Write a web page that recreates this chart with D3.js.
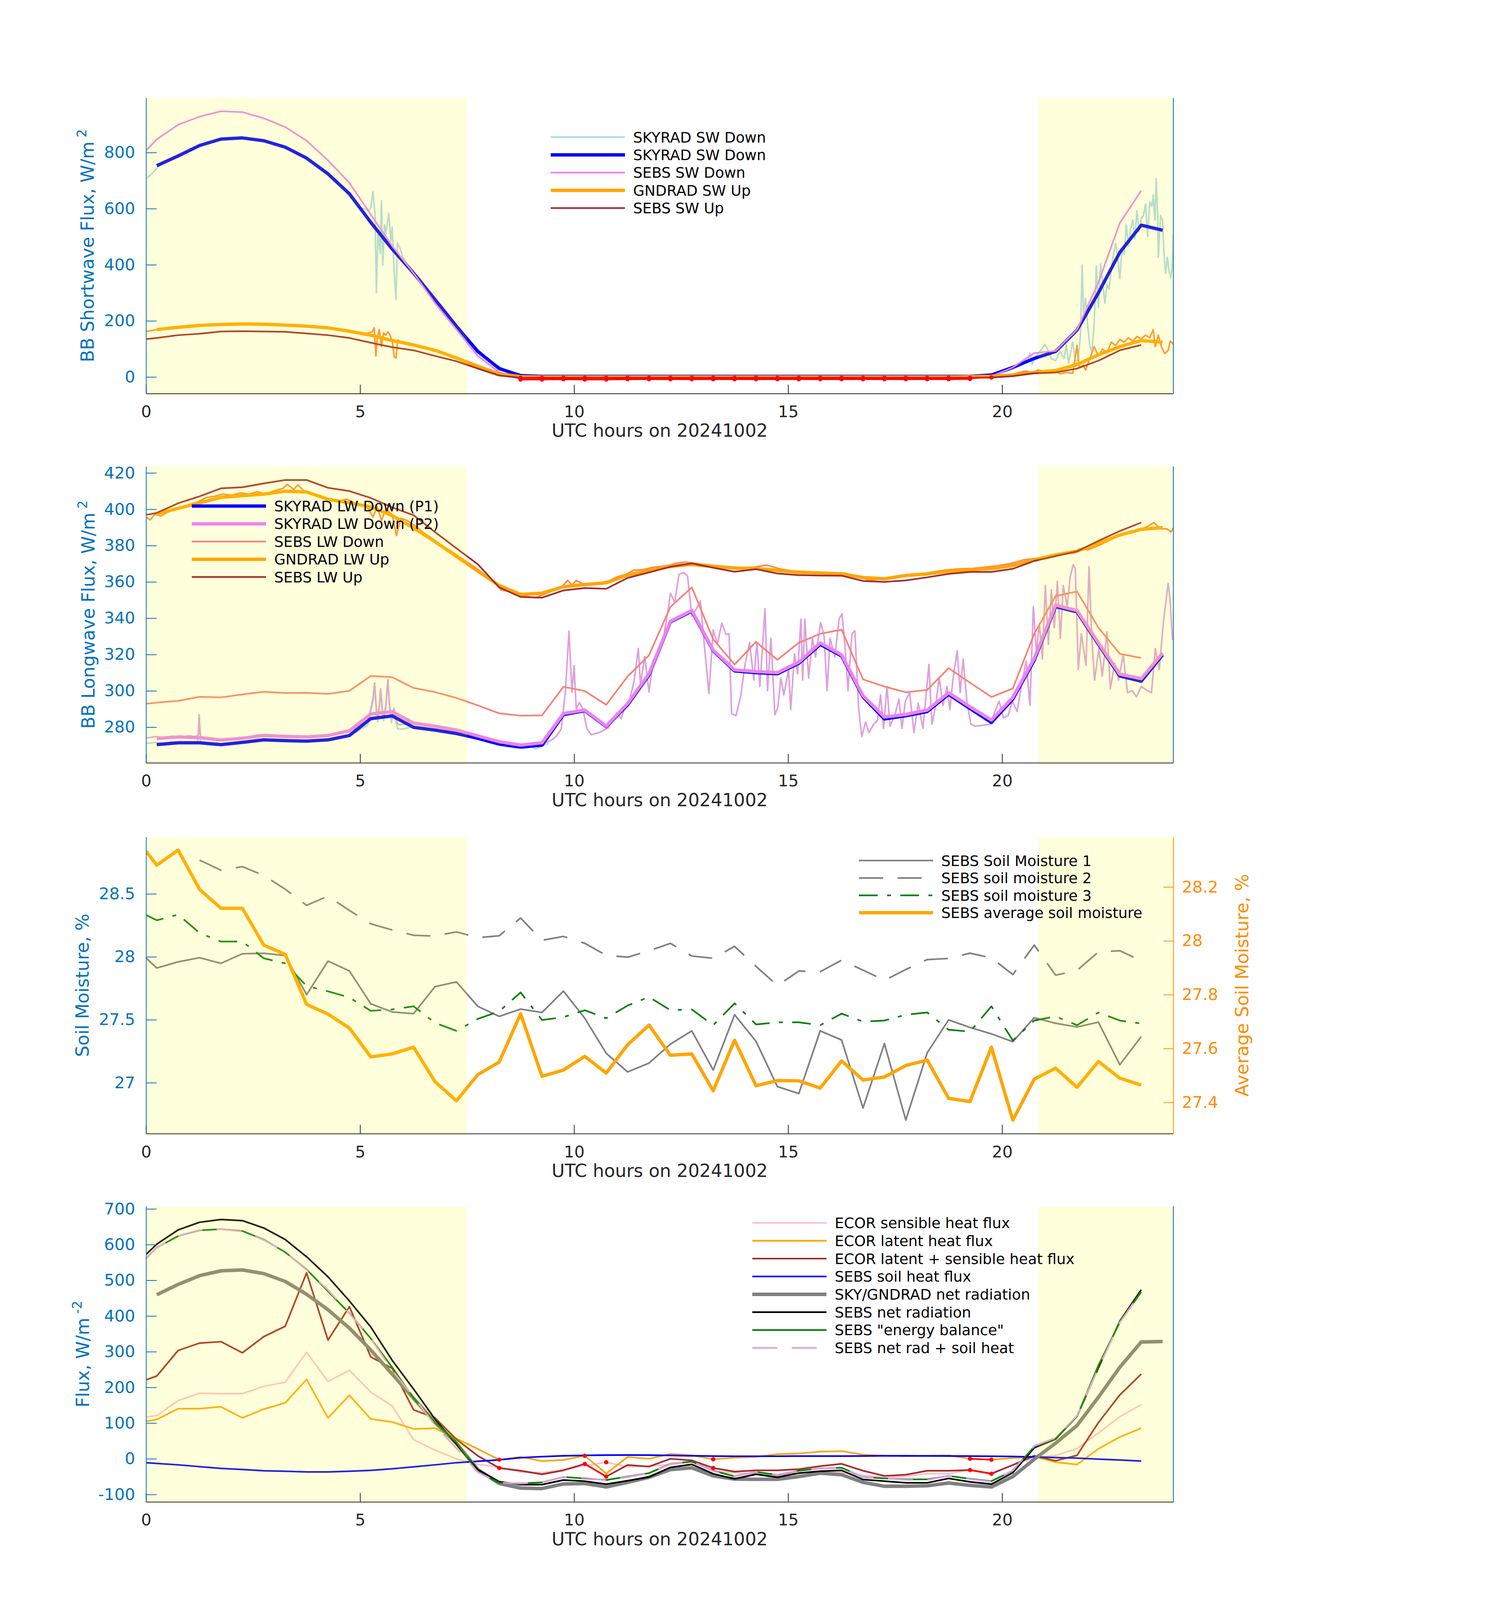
<!DOCTYPE html>
<html>
<head>
<meta charset="utf-8">
<title>SGP radiation, soil moisture and flux, 20241002</title>
<script src="https://d3js.org/d3.v7.min.js"></script>
<style>
  html, body { margin: 0; padding: 0; background: #fff; overflow: hidden; }
  svg { display: block; }
</style>
</head>
<body>
<div id="chart"></div>
<script>
// ---------------- data (UTC hours on 20241002) ----------------

// half-hour averaging grids
const tSebs = [0, 0.25, 0.75, 1.25, 1.75, 2.25, 2.75, 3.25, 3.75, 4.25, 4.75, 5.25, 5.75, 6.25, 6.75, 7.25,
  7.75, 8.25, 8.75, 9.25, 9.75, 10.25, 10.75, 11.25, 11.75, 12.25, 12.75, 13.25, 13.75, 14.25, 14.75, 15.25,
  15.75, 16.25, 16.75, 17.25, 17.75, 18.25, 18.75, 19.25, 19.75, 20.25, 20.75, 21.25, 21.75, 22.25, 22.75, 23.25];
const tRad = [0.25, 0.75, 1.25, 1.75, 2.25, 2.75, 3.25, 3.75, 4.25, 4.75, 5.25, 5.75, 6.25, 6.75, 7.25, 7.75,
  8.25, 8.75, 9.25, 9.75, 10.25, 10.75, 11.25, 11.75, 12.25, 12.75, 13.25, 13.75, 14.25, 14.75, 15.25, 15.75,
  16.25, 16.75, 17.25, 17.75, 18.25, 18.75, 19.25, 19.75, 20.25, 20.75, 21.25, 21.75, 22.25, 22.75, 23.25, 23.75];

const xTicks = [0, 5, 10, 15, 20];
const shadeSpans = [[0, 7.5], [20.85, 24]];

// panel 1: shortwave
const swSkyAvg = [753, 788, 825, 848, 852, 842, 819, 780, 724, 653, 551, 456, 370, 276, 181, 91, 30, 5,
  2, 2, 2, 2, 2, 2, 2, 2, 2, 2, 2, 2, 2, 2, 2, 2, 2, 2, 2, 2, 2, 7, 34, 66, 91, 167, 300, 444, 541, 523];
const swSebsDown = [807, 847, 899, 928, 947, 944, 922, 891, 842, 772, 692, 579, 467, 370, 263, 169, 75, 17,
  -9, -9, -8, -9, -9, -8, -8, -8, -8, -8, -8, -8, -8, -8, -8, -8, -8, -8, -8, -8, -8, -7, 2,
  34, 85, 93, 169, 337, 549, 664];
const swGndUp = [169, 177, 184, 187, 189, 188, 185, 181, 175, 163, 149, 130, 114, 95, 68, 38, 11, 1,
  0, 0, 0, 0, 0, 0, 0, 0, 0, 0, 0, 0, 0, 0, 0, 0, 0, 0, 0, 0, 1, 2.5, 7, 16, 23, 44, 79, 108, 130, 124];
const swSebsUp = [135, 139, 149, 154, 162, 163, 162, 161, 155, 149, 139, 122, 106, 95, 75, 56, 30, 5,
  -3, -3, -3, -3, -3, -3, -3, -3, -3, -3, -3, -3, -3, -3, -3, -3, -3, -3, -3, -3, -3, -3, -2,
  3, 13, 16, 30, 58, 95, 114];
const swSkyFine = [[0,708],[0.1,719],[0.2,735],[0.3,752],[0.5,770],[1,808],[1.5,838],[2,851],[2.5,850],[3,831],
  [3.5,800],[4,752],[4.5,689],[5,602],[5.1,600],[5.2,591],[5.25,604],[5.3,661],[5.35,579],[5.38,300],[5.42,526],
  [5.47,440],[5.5,628],[5.53,399],[5.57,542],[5.6,509],[5.67,583],[5.72,485],[5.75,534],[5.8,362],[5.84,276],
  [5.87,477],[5.93,460],[6,427],[6.1,403],[6.2,386],[6.3,362],[6.4,350],[6.5,328],[7,230],[7.5,138],[8,60],
  [8.5,14],[9,3],[10,1],[12,1],[14,1],[16,1],[18,1],[19,2],[19.8,6],[20.2,25],[20.5,50],[20.6,58],[20.65,85],
  [20.7,46],[20.8,75],[20.9,95],[21,116],[21.05,103],[21.15,66],[21.25,58],[21.35,91],[21.45,66],[21.5,116],
  [21.55,50],[21.65,124],[21.72,50],[21.78,66],[21.83,149],[21.87,399],[21.9,231],[21.95,280],[22,181],
  [22.05,108],[22.1,91],[22.15,190],[22.2,395],[22.25,247],[22.3,403],[22.35,337],[22.4,263],[22.45,329],
  [22.5,313],[22.55,386],[22.6,436],[22.65,477],[22.7,427],[22.75,350],[22.8,452],[22.85,436],[22.9,542],
  [22.95,468],[23,526],[23.05,559],[23.1,493],[23.15,592],[23.2,518],[23.25,567],[23.3,575],[23.35,616],
  [23.4,501],[23.45,624],[23.5,608],[23.53,649],[23.57,559],[23.6,706],[23.63,592],[23.65,427],[23.7,575],
  [23.75,559],[23.78,444],[23.82,370],[23.86,427],[23.9,378],[23.94,354],[23.97,386],[24,509]];
const swGndFine = [[0,162],[0.1,165],[0.26,169],[0.5,173],[1,180],[1.5,185],[2,188],[2.5,189],[3,187],[3.5,183],
  [4,178],[4.5,169],[5,156],[5.1,153],[5.2,157],[5.28,161],[5.33,175],[5.37,75],[5.4,136],[5.45,169],[5.5,108],
  [5.55,157],[5.6,149],[5.65,161],[5.7,149],[5.75,128],[5.8,71],[5.84,68],[5.88,132],[5.95,124],[6.05,120],
  [6.2,116],[6.4,108],[6.6,99],[7,82],[7.5,55],[8,25],[8.5,5],[9,1],[10,0],[12,0],[14,0],[16,0],[18,0],[19,1],
  [19.8,2],[20.2,7],[20.4,16],[20.55,21],[20.7,16],[20.85,25],[21,19],[21.2,25],[21.35,11],[21.5,16],[21.65,13],
  [21.75,112],[21.8,34],[21.9,42],[21.95,25],[22.05,66],[22.15,108],[22.25,75],[22.35,99],[22.45,87],[22.55,124],
  [22.65,112],[22.75,134],[22.85,124],[22.95,140],[23.05,128],[23.15,144],[23.25,136],[23.35,149],[23.45,140],
  [23.53,169],[23.58,108],[23.65,149],[23.72,108],[23.8,83],[23.88,95],[23.93,128],[24,116]];

// panel 2: longwave
const lwSkyP1 = [270.4, 271.4, 271.4, 270.4, 271.6, 273.0, 272.6, 272.3, 273.0, 275.4, 284.7, 286.2, 279.9, 278.4,
  276.5, 273.9, 270.7, 269.1, 270.1, 286.9, 289.1, 280.3, 292.3, 308.8, 338.0, 343.9, 322.1, 311.0, 310.0, 309.4,
  315.2, 325.6, 319.2, 296.7, 284.5, 286.3, 288.6, 298.1, 290.3, 282.6, 295.5, 316.9, 346.4, 343.5, 325.6, 308.2,
  305.3, 319.8];
const lwSkyP2 = [273.7, 274.6, 274.2, 272.9, 273.9, 275.4, 274.9, 274.6, 275.4, 278.0, 287.2, 288.5, 282.2, 280.5,
  278.4, 275.2, 272.0, 270.1, 271.4, 287.5, 289.4, 280.6, 293.0, 309.4, 338.3, 344.3, 322.4, 311.5, 310.6, 310.0,
  315.8, 326.4, 319.8, 297.3, 285.6, 287.0, 289.4, 298.9, 291.2, 283.9, 296.4, 317.8, 347.2, 344.2, 326.4, 309.2,
  306.7, 320.8];
const lwSebsDown = [292.9, 293.5, 294.5, 296.7, 296.4, 298.0, 299.5, 298.8, 298.9, 298.3, 300.0, 308.2, 307.5, 301.6,
  299.3, 296.1, 292.0, 287.6, 286.3, 286.5, 302.2, 299.9, 292.3, 307.9, 319.6, 346.2, 357.0, 328.4, 314.5, 327.0,
  317.1, 326.5, 331.4, 333.7, 306.3, 302.4, 299.2, 300.5, 312.5, 304.5, 296.6, 301.3, 331.4, 352.2, 354.7, 334.8,
  320.4, 318.1];
const lwGndUp = [397.5, 400.5, 403.5, 406.5, 407.5, 408.3, 409.9, 409.5, 405.5, 403.5, 401.3, 396.5, 389.7, 382.2,
  374.0, 366.0, 358.0, 353.1, 353.8, 357.3, 358.5, 359.5, 363.8, 366.3, 368.5, 369.6, 368.5, 367.6, 367.4, 366.3,
  365.2, 364.9, 364.4, 362.4, 361.7, 363.5, 364.4, 365.9, 366.7, 367.3, 369.0, 372.2, 374.9, 376.9, 381.2, 385.8,
  388.9, 389.9];
const lwSebsUp = [396.9, 398.0, 403.3, 407.1, 411.5, 412.1, 414.2, 416.1, 416.1, 411.8, 410.0, 406.2, 401.0, 396.7,
  387.4, 378.5, 369.7, 357.0, 351.7, 351.3, 355.3, 356.6, 356.2, 362.2, 365.2, 368.3, 370.2, 367.8, 365.6, 367.0,
  364.6, 363.7, 363.5, 363.4, 360.5, 360.0, 360.8, 362.5, 364.4, 365.5, 365.5, 367.2, 371.5, 374.2, 376.8, 382.6,
  388.0, 392.7];
const lwP1Fine = [[0,271.0],[0.2,271.5],[0.4,271.2],[0.6,271.8],[0.8,271.5],[1.0,271.8],[1.2,271.5],[1.24,285.5],
  [1.27,271.5],[1.4,270.5],[1.6,270.0],[1.8,270.2],[2.0,271.0],[2.2,271.5],[2.4,272.0],[2.6,272.8],[2.8,273.2],
  [3.0,272.8],[3.2,272.4],[3.4,272.0],[3.6,271.8],[3.8,272.2],[4.0,272.6],[4.2,273.0],[4.4,273.6],[4.6,274.5],
  [4.8,276.0],[5.0,278.5],[5.1,280.0],[5.18,281.0],[5.25,288],[5.3,294],[5.34,302.5],[5.38,288],[5.41,283.0],
  [5.45,290],[5.48,299.5],[5.52,288],[5.55,283.5],[5.6,290],[5.65,304.5],[5.69,290],[5.73,282.5],[5.79,288.0],
  [5.84,282.5],[5.88,279.0],[6.0,279.0],[6.2,280.0],[6.4,279.0],[6.6,278.6],[6.8,278.0],[7.0,277.2],[7.2,276.4],
  [7.4,275.4],[7.6,274.2],[7.8,273.0],[8.0,271.6],[8.2,270.4],[8.4,269.4],[8.6,268.6],[8.8,268.2],[9.0,269.0],
  [9.1,268.0],[9.25,269.6],[9.4,271.0]];
const lwP2Fine = [[0,274.0],[0.2,274.8],[0.4,274.3],[0.6,275.0],[0.8,274.6],[1.0,275.2],[1.15,274.8],[1.22,275.5],
  [1.24,286.9],[1.27,275.0],[1.4,274.0],[1.6,273.4],[1.8,273.0],[2.0,273.6],[2.2,274.0],[2.4,274.7],[2.6,275.6],
  [2.8,276.0],[3.0,275.4],[3.2,275.0],[3.4,274.6],[3.6,274.3],[3.8,274.8],[4.0,275.2],[4.2,275.6],[4.4,276.3],
  [4.6,277.2],[4.8,278.4],[5.0,281.0],[5.1,282.5],[5.18,283.5],[5.25,290],[5.3,296],[5.34,304.4],[5.38,290],
  [5.41,285.3],[5.45,292],[5.48,301.2],[5.52,290],[5.55,285.7],[5.6,292],[5.65,306.3],[5.69,292],[5.73,285.0],
  [5.79,290.4],[5.84,285],[5.88,281.5],[6.0,281.5],[6.2,282.5],[6.4,281.5],[6.6,281.0],[6.8,280.3],[7.0,279.5],
  [7.2,278.6],[7.4,277.6],[7.6,276.2],[7.8,275.0],[8.0,273.6],[8.2,272.3],[8.4,271.2],[8.6,270.3],[8.8,269.8],
  [9.0,270.5],[9.1,269.5],[9.25,271.0],[9.4,272.0],[9.5,273.3],[9.6,275.5],[9.7,279.0],[9.8,300.5],[9.88,332.9],
  [9.95,299.3],[10.0,313.9],[10.05,289.8],[10.12,293.6],[10.2,290.5],[10.3,279.0],[10.4,275.8],[10.6,277.1],
  [10.8,279.6],[11.0,287.9],[11.1,284.7],[11.2,292],[11.3,295.5],[11.4,305],[11.5,323.4],[11.55,303.7],
  [11.65,318.9],[11.75,299.3],[11.85,317.0],[12.0,322.1],[12.1,331.0],[12.2,345],[12.25,353.8],[12.35,348.7],
  [12.45,364.0],[12.55,365.2],[12.65,363.3],[12.75,341.1],[12.85,344.9],[12.95,349.4],[13.05,323.4],[13.15,298.6],
  [13.25,333.5],[13.35,325.9],[13.45,337.3],[13.55,331.0],[13.62,331.4],[13.68,287.4],[13.78,286.3],[13.89,296.7],
  [13.99,314.0],[14.1,326.7],[14.2,305.9],[14.27,326.7],[14.34,302.4],[14.46,345.2],[14.52,300.1],[14.6,329.0],
  [14.69,286.8],[14.76,290.9],[14.83,307.1],[14.9,297.8],[15.01,311.7],[15.06,289.7],[15.15,320.4],[15.22,309.4],
  [15.3,339.5],[15.34,305.9],[15.39,339.5],[15.48,307.1],[15.57,329.0],[15.64,318.6],[15.76,337.7],[15.84,330.2],
  [15.91,300.1],[15.98,329.0],[16.09,318.6],[16.19,339.5],[16.26,342.4],[16.33,324.4],[16.4,300.1],[16.49,331.4],
  [16.56,333.1],[16.65,289.7],[16.72,274.7],[16.81,282.8],[16.89,277.0],[17.0,281.6],[17.09,283.9],[17.16,297.8],
  [17.23,279.3],[17.31,302.4],[17.38,280.5],[17.49,286.3],[17.59,295.5],[17.66,279.3],[17.74,294.3],[17.84,299.0],
  [17.94,277.0],[18.04,293.2],[18.15,279.3],[18.29,314.6],[18.36,281.6],[18.44,290.9],[18.53,307.1],[18.62,292.0],
  [18.71,302.4],[18.78,289.7],[18.85,305.9],[18.95,322.1],[19.02,299.0],[19.09,317.5],[19.18,293.2],[19.27,281.6],
  [19.37,280.5],[19.55,281.1],[19.72,281.6],[19.83,288.6],[19.93,294.3],[20.03,285.1],[20.14,286.3],[20.24,294.3],
  [20.35,288.6],[20.45,302.4],[20.56,316.3],[20.65,292.0],[20.73,346.4],[20.8,321.0],[20.87,337.1],[20.94,317.5],
  [21.01,358.0],[21.08,325.6],[21.15,355.6],[21.22,334.8],[21.29,360.3],[21.36,329.0],[21.43,358.0],[21.52,346.4],
  [21.59,362.6],[21.66,369.5],[21.71,367.2],[21.78,311.7],[21.85,331.4],[21.96,314.0],[22.03,368.4],[22.1,326.7],
  [22.16,305.9],[22.26,323.3],[22.34,308.2],[22.45,332.5],[22.53,301.3],[22.63,315.2],[22.72,305.9],[22.83,319.8],
  [22.93,299.0],[23.04,300.1],[23.14,296.7],[23.25,302.4],[23.39,300.1],[23.49,299.0],[23.58,323.3],[23.67,311.7],
  [23.77,338.3],[23.88,359.1],[23.93,348.7],[23.98,327.9]];
const lwGndFine = [[0,395.7],[0.1,394.1],[0.2,397.2],[0.35,396.3],[0.5,398.4],[0.7,400.1],[0.9,401.4],[1,402.6],
  [1.2,403.9],[1.4,406.4],[1.6,407.1],[1.8,408.3],[2,407.7],[2.2,409.0],[2.4,408.3],[2.6,409.6],[2.8,408.3],
  [3,410.2],[3.2,411.5],[3.3,413.7],[3.45,410.9],[3.55,413.4],[3.7,409.6],[3.9,408.3],[4.1,407.1],[4.3,405.5],
  [4.5,404.5],[4.7,405.5],[4.9,403.0],[5.1,402.0],[5.2,400.1],[5.3,395.7],[5.4,401.4],[5.5,393.8],[5.6,400.1],
  [5.75,396.9],[5.85,385.5],[5.95,395.0],[6.1,393.8],[6.3,390.6],[6.5,386.8],[6.7,383.6],[6.9,379.8],[7.1,377.3],
  [7.3,374.1],[7.5,370.9],[7.7,367.8],[7.9,364.0],[8.1,360.8],[8.3,355.4],[8.5,354.8],[8.7,352.5],[8.9,351.9],
  [9.1,351.3],[9.3,353.2],[9.5,355.1],[9.7,357.0],[9.85,360.8],[9.95,358.2],[10.05,360.8],[10.2,358.9],[10.4,358.9],
  [10.6,359.5],[10.8,360.4],[11,362.7],[11.2,364.0],[11.4,366.5],[11.6,366.7],[11.8,367.8],[12,368.4],[12.2,369.0],
  [12.4,370.3],[12.6,370.9],[12.8,370.3],[13,369.7],[13.3,369.0],[13.6,368.4],[13.9,367.8],[14.2,368.1],
  [14.5,369.3],[14.8,367.2],[15.1,366.0],[15.4,365.7],[15.7,365.1],[16,364.9],[16.3,364.9],[16.6,363.2],
  [16.9,360.9],[17.2,361.7],[17.5,362.6],[17.8,363.2],[18.1,364.3],[18.4,365.5],[18.7,366.6],[19,367.2],
  [19.3,367.4],[19.6,368.1],[19.9,368.9],[20.2,370.1],[20.5,372.1],[20.8,373.0],[21.1,374.2],[21.4,375.3],
  [21.7,375.9],[21.8,378.2],[22,377.6],[22.3,380.5],[22.6,384.0],[22.9,386.9],[23.2,388.6],[23.4,390.6],
  [23.55,392.7],[23.7,389.2],[23.85,389.2],[23.95,387.5],[24,389.8]];

// panel 3: soil moisture (%)
const soilMoist1 = [27.991, 27.911, 27.960, 27.993, 27.948, 28.024, 28.028, 28.010, 27.699, 27.966, 27.888, 27.627,
  27.562, 27.549, 27.763, 27.801, 27.607, 27.527, 27.585, 27.558, 27.728, 27.512, 27.234, 27.086, 27.156, 27.307,
  27.412, 27.101, 27.540, 27.329, 26.969, 26.914, 27.412, 27.339, 26.799, 27.311, 26.704, 27.238, 27.499, 27.439,
  27.388, 27.326, 27.516, 27.472, 27.443, 27.481, 27.143, 27.366];
const soilMoist2 = [null, null, null, 28.768, 28.687, 28.716, 28.646, 28.537, 28.409, 28.482, 28.368, 28.262,
  28.213, 28.171, 28.165, 28.198, 28.152, 28.167, 28.308, 28.131, 28.162, 28.107, 28.012, 27.997, 28.048, 28.107,
  28.006, 27.988, 28.083, 27.924, 27.772, 27.887, 27.882, 27.973, 27.894, 27.813, 27.899, 27.978, 27.987, 28.029,
  27.991, 27.859, 28.093, 27.854, 27.892, 28.039, 28.048, 27.969];
const soilMoist3 = [28.332, 28.290, 28.335, 28.189, 28.121, 28.121, 27.988, 27.948, 27.768, 27.726, 27.677, 27.571,
  27.582, 27.607, 27.476, 27.412, 27.507, 27.567, 27.717, 27.498, 27.521, 27.576, 27.512, 27.613, 27.681, 27.576,
  27.582, 27.457, 27.631, 27.463, 27.480, 27.480, 27.457, 27.549, 27.485, 27.494, 27.540, 27.558, 27.421, 27.406,
  27.607, 27.335, 27.494, 27.527, 27.457, 27.558, 27.494, 27.470];
const soilMoistAvg = [28.333, 28.281, 28.337, 28.191, 28.121, 28.121, 27.984, 27.950, 27.764, 27.728, 27.676, 27.569,
  27.580, 27.605, 27.477, 27.406, 27.503, 27.550, 27.729, 27.497, 27.520, 27.571, 27.509, 27.614, 27.687, 27.575,
  27.580, 27.443, 27.631, 27.462, 27.481, 27.480, 27.453, 27.554, 27.483, 27.494, 27.537, 27.557, 27.415, 27.403,
  27.605, 27.334, 27.486, 27.527, 27.456, 27.552, 27.490, 27.464];

// panel 4: fluxes (W/m^2)
const ecorSensible = [116.5, 121, 163.1, 183.6, 182.3, 182.3, 202.9, 214.5, 298.3, 216.4, 248, 186.8, 148.1, 53.3,
  24.3, 0, -15.5, -23.9, -36.8, -38.9, -30.5, -19.5, -9.7, -22.6, -20.6, -16.1, -9.7, -33.7, -40, -42.1, -46.6,
  -40.2, -37, -38.2, -46.6, -51.1, -49.8, -41.4, -42.1, -30.5, -40.2, -17.6, 3, 9.4, 28.8, 72.7, 117.8, 152];
const ecorLatent = [104.9, 110, 140.4, 140.4, 145.5, 114.6, 139.1, 156.5, 222.2, 114.6, 177.8, 111.4, 103, 83.6,
  85.6, 56.6, 27.6, -2.6, 5.2, -6.4, -3.2, 8.4, -41.3, 5.2, 0, 13.5, 9.7, -1.3, 3.2, 5.2, 12.9, 14.8, 20, 21.3,
  11.6, 8.4, 7.1, 8.4, 9.7, 0, -2.6, 1.9, 6.4, -9.7, -16.1, 27.7, 61.1, 85.6];
const ecorSum = [221, 231.9, 303.5, 324.1, 328, 297, 342.2, 371.2, 520.8, 332.5, 426, 285.4, 253.2, 137.1, 114.6,
  54.6, 8.4, -25.8, -33.5, -43.4, -32.4, -14.2, -49.8, -17.4, -21.9, 0, -4.5, -25.8, -36, -32.4, -32.4, -29.1,
  -20.7, -14.2, -33.5, -47.9, -44.7, -33.5, -33.5, -31.6, -41.9, -17.4, 8.4, -5.8, 9.7, 101.5, 179, 237.1];
const sebsSoilHeat = [-11, -13, -17, -22, -27, -30, -33.5, -35, -36.8, -36.8, -35, -32.4, -28, -22.6, -17, -11,
  -7, -3, 3, 6, 8.4, 9.5, 10.3, 10.5, 10.3, 9.5, 8.4, 7.5, 7.1, 7.1, 7.1, 7.5, 7.5, 7.5, 7.8, 8.4, 8.4, 8, 7.8,
  7.5, 7.1, 6.5, 5.2, 3.5, 1.9, -1, -3.5, -6.4];
const radNet = [459.5, 488.5, 513, 526.6, 529.1, 518.8, 496.9, 460.8, 417.6, 366, 304.8, 237.1, 169.4, 101.7, 43.7,
  -30.3, -69.2, -82.1, -83.4, -70.5, -69.2, -78.9, -66, -51.8, -30.5, -25.3, -47.9, -57, -57.6, -57.6, -49.8,
  -40.2, -44.7, -66, -77, -77, -75.6, -67.9, -74.4, -78.9, -49.8, -1.3, 43.8, 93.3, 172.6, 256.4, 327.3, 328.6];
const sebsNet = [572.3, 601.4, 641.3, 662.6, 670.3, 667.1, 646.5, 614.2, 565.9, 509.8, 442.1, 369.2, 275.8, 195.2,
  111.3, 40.4, -30.5, -64, -72.4, -72.4, -59.5, -62.7, -71.1, -61.5, -51.1, -24.1, -15.7, -42.1, -56.3, -43.4,
  -51.8, -40.2, -35, -32.4, -58.2, -62.7, -67.3, -67.3, -55, -64.7, -71.1, -38.9, 30.8, 55.3, 119.1, 255, 385.4,
  473.7];
const sebsEnergyBal = [561.4, 591.7, 623.9, 640, 643.3, 638.1, 614.2, 578.8, 530.4, 469.2, 407.9, 337, 256.4, 169.4,
  101.7, 46.9, -36.8, -67.3, -69.2, -66, -51.1, -55, -59.5, -49.8, -40.2, -14.2, -7.7, -33.5, -49, -36.8, -45.3,
  -33.5, -27.1, -25.1, -51.1, -55, -57.6, -57.6, -47.9, -56.3, -62.7, -33.5, 34, 56.6, 119.1, 262, 382.1, 467.3];
const sebsNetPlusSoil = [561.3, 591.4, 624.3, 640.6, 643.3, 637.1, 613, 579.2, 529.1, 473, 407.1, 336.8, 247.8,
  172.6, 94.3, 29.4, -37.5, -67, -69.4, -66.4, -51.1, -53.2, -60.8, -51, -40.8, -14.6, -7.3, -34.6, -49.2, -36.3,
  -44.7, -32.7, -27.5, -24.9, -50.4, -54.3, -58.9, -59.3, -47.2, -57.2, -64, -32.4, 36, 58.8, 121, 254, 381.9,
  467.3];
// QC-flagged ECOR half hours (red)
const ecorLatentFlags = [8.25, 10.25, 13.25, 19.25, 19.75];
const ecorSensibleFlags = [10.75];
const ecorSumFlags = [8.25, 10.25, 10.75, 13.25, 19.25, 19.75];

// tick values
const swTicks = [0, 200, 400, 600, 800];
const lwTicks = [280, 300, 320, 340, 360, 380, 400, 420];
const smTicks = [27, 27.5, 28, 28.5];
const smAvgTicks = [27.4, 27.6, 27.8, 28, 28.2];
const fluxTicks = [-100, 0, 100, 200, 300, 400, 500, 600, 700];

// ---------------- drawing ----------------
const FONT = '"DejaVu Sans", "Liberation Sans", sans-serif';
const AXBLUE = '#0072BD', AXORANGE = '#FF8C00', AXDARK = '#262626';
const width = 3825, fullHeight = 4875;
// the photographed area can be shorter than the nominal window: squeeze the layout vertically to fit
const viewH = Math.min(fullHeight, window.innerHeight || fullHeight);
const k = viewH / fullHeight;
const V = v => v * k;
const X0 = 374, X1 = 3004;

const svg = d3.select('#chart').append('svg')
  .attr('width', width)
  .attr('height', viewH)
  .style('background', '#fff');
svg.append('rect').attr('width', width).attr('height', viewH).attr('fill', '#fff');

const zip = (t, v) => t.map((d, i) => [d, v[i]]);

function makePanel(top, bottom, yDomain) {
  top = V(top); bottom = V(bottom);
  const x = d3.scaleLinear().domain([0, 24]).range([X0, X1]);
  const y = d3.scaleLinear().domain(yDomain).range([bottom, top]);
  const g = svg.append('g');
  const clipId = 'clip' + Math.round(top);
  svg.append('clipPath').attr('id', clipId)
    .append('rect').attr('x', X0).attr('y', top).attr('width', X1 - X0).attr('height', bottom - top);
  const plot = g.append('g').attr('clip-path', `url(#${clipId})`);
  return { x, y, g, plot, top, bottom };
}

function addLine(p, pts, c, w, dash, yScale) {
  const ys = yScale || p.y;
  p.plot.append('path')
    .datum(pts)
    .attr('fill', 'none')
    .attr('stroke', c)
    .attr('stroke-width', w)
    .attr('stroke-linejoin', 'round')
    .attr('stroke-dasharray', dash || null)
    .attr('d', d3.line()
      .defined(d => d[1] !== null && d[1] !== undefined)
      .x(d => p.x(d[0]))
      .y(d => ys(d[1])));
}

// red overlay on flagged points
function addFlags(p, pts, isFlagged) {
  const line = d3.line().defined(isFlagged).x(d => p.x(d[0])).y(d => p.y(d[1]));
  p.plot.append('path').datum(pts)
    .attr('fill', 'none').attr('stroke', '#ff0000').attr('stroke-width', 4).attr('d', line);
  p.plot.selectAll(null).data(pts.filter(isFlagged)).join('circle')
    .attr('cx', d => p.x(d[0])).attr('cy', d => p.y(d[1])).attr('r', 5.5).attr('fill', '#ff0000');
}

function shade(p) {
  shadeSpans.forEach(([a, b]) => {
    p.g.append('rect')
      .attr('x', p.x(a)).attr('width', p.x(b) - p.x(a))
      .attr('y', p.top).attr('height', p.bottom - p.top + V(6))
      .attr('fill', '#ffff00').attr('fill-opacity', 0.137);
  });
}

function axes(p, yTicks, labelX, labelParts, rightLine) {
  const xa = p.g.append('g')
    .attr('transform', `translate(0,${p.bottom})`)
    .call(d3.axisBottom(p.x).tickValues(xTicks).tickFormat(d3.format('d'))
      .tickSizeInner(-V(27)).tickSizeOuter(0).tickPadding(V(37)));
  xa.attr('font-family', FONT).attr('font-size', 41.7).attr('color', AXDARK);
  xa.selectAll('path, line').attr('stroke-width', 2);

  const ya = p.g.append('g')
    .attr('transform', `translate(${X0},0)`)
    .call(d3.axisLeft(p.y).tickValues(yTicks).tickFormat(d => String(d))
      .tickSizeInner(-27).tickSizeOuter(0).tickPadding(28));
  ya.attr('font-family', FONT).attr('font-size', 41.7).attr('color', AXBLUE);
  ya.selectAll('path, line').attr('stroke-width', 2);

  if (rightLine) {
    p.g.append('line').attr('x1', X1).attr('x2', X1).attr('y1', p.top).attr('y2', p.bottom)
      .attr('stroke', AXBLUE).attr('stroke-width', 2);
  }

  p.g.append('text')
    .attr('x', (X0 + X1) / 2).attr('y', p.bottom + V(132))
    .attr('text-anchor', 'middle')
    .attr('font-family', FONT).attr('font-size', 45.8).attr('fill', AXDARK)
    .text('UTC hours on 20241002');

  yLabel(p, labelX, labelParts, AXBLUE);
}

function yLabel(p, xPos, parts, color) {
  const cy = (p.top + p.bottom) / 2;
  const t = p.g.append('text')
    .attr('transform', `translate(${xPos},${cy}) rotate(-90)`)
    .attr('text-anchor', 'middle')
    .attr('font-family', FONT).attr('font-size', 45.8).attr('fill', color);
  t.append('tspan').text(parts[0]);
  if (parts[1]) {
    t.append('tspan').attr('dx', 10).attr('dy', -19).attr('font-size', 34).text(parts[1]);
  }
}

function legend(p, x0, y0, step, entries) {
  entries.forEach((e, i) => {
    const yy = V(y0 + i * step);
    p.g.append('line')
      .attr('x1', x0).attr('x2', x0 + 190).attr('y1', yy).attr('y2', yy)
      .attr('stroke', e.c).attr('stroke-width', e.w)
      .attr('stroke-dasharray', e.dash || null);
    p.g.append('text')
      .attr('x', x0 + 211).attr('y', yy).attr('dy', '0.36em')
      .attr('font-family', FONT).attr('font-size', 37.5).attr('fill', '#000')
      .text(e.label);
  });
}

// ---- panel 1: shortwave ----
const p1 = makePanel(298, 1199, [-59, 995]);
addLine(p1, swSkyFine, '#ADD8E6', 4);
addLine(p1, zip(tRad, swSkyAvg), '#0000FF', 8.5);
addLine(p1, zip(tSebs, swSebsDown), '#EE82EE', 4.2);
addLine(p1, swGndFine, '#FF8A3D', 4);
addLine(p1, zip(tRad, swGndUp), '#FFA500', 8.5);
addLine(p1, zip(tSebs, swSebsUp), '#A52A2A', 4.2);
addFlags(p1, zip(tSebs, swSebsDown), d => d[1] < 0);
addFlags(p1, zip(tSebs, swSebsUp), d => d[1] < 0);
shade(p1);
axes(p1, swTicks, 240, ['BB Shortwave Flux, W/m', '2'], true);
legend(p1, 1410, 418, 54, [
  { label: 'SKYRAD SW Down', c: '#ADD8E6', w: 4.2 },
  { label: 'SKYRAD SW Down', c: '#0000FF', w: 8.5 },
  { label: 'SEBS SW Down', c: '#EE82EE', w: 4.2 },
  { label: 'GNDRAD SW Up', c: '#FFA500', w: 8.5 },
  { label: 'SEBS SW Up', c: '#A52A2A', w: 4.2 }
]);

// ---- panel 2: longwave ----
const p2 = makePanel(1421, 2324, [260.4, 423.6]);
addLine(p2, lwP1Fine, '#ADD8E6', 4);
addLine(p2, lwP2Fine, '#DDA0DD', 4);
addLine(p2, lwGndFine, '#FF8A3D', 4);
addLine(p2, zip(tRad, lwSkyP1), '#0000FF', 8.5);
addLine(p2, zip(tRad, lwSkyP2), '#EE82EE', 8.5);
addLine(p2, zip(tSebs, lwSebsDown), '#FA8072', 4.2);
addLine(p2, zip(tRad, lwGndUp), '#FFA500', 8.5);
addLine(p2, zip(tSebs, lwSebsUp), '#A52A2A', 4.2);
shade(p2);
axes(p2, lwTicks, 242, ['BB Longwave Flux, W/m', '2'], true);
legend(p2, 491, 1542, 54, [
  { label: 'SKYRAD LW Down (P1)', c: '#0000FF', w: 8.5 },
  { label: 'SKYRAD LW Down (P2)', c: '#EE82EE', w: 8.5 },
  { label: 'SEBS LW Down', c: '#FA8072', w: 4.2 },
  { label: 'GNDRAD LW Up', c: '#FFA500', w: 8.5 },
  { label: 'SEBS LW Up', c: '#A52A2A', w: 4.2 }
]);

// ---- panel 3: soil moisture ----
const p3 = makePanel(2550, 3454, [26.596, 28.952]);
const yAvg = d3.scaleLinear().domain([27.284, 28.386]).range([p3.bottom, p3.top]);
addLine(p3, zip(tSebs, soilMoist1), '#808080', 4.2);
addLine(p3, zip(tSebs, soilMoist2), '#808080', 4.2, '62,37');
addLine(p3, zip(tSebs, soilMoist3), '#008000', 4.2, '48,24,10,24');
addLine(p3, zip(tSebs, soilMoistAvg), '#FFA500', 8.5, null, yAvg);
shade(p3);
axes(p3, smTicks, 227, ['Soil Moisture, %'], false);
const ra = p3.g.append('g')
  .attr('transform', `translate(${X1},0)`)
  .call(d3.axisRight(yAvg).tickValues(smAvgTicks).tickFormat(d => String(d))
    .tickSizeInner(-25).tickSizeOuter(0).tickPadding(22));
ra.attr('font-family', FONT).attr('font-size', 41.7).attr('color', AXORANGE);
ra.selectAll('path, line').attr('stroke-width', 2);
yLabel(p3, 3196, ['Average Soil Moisture, %'], AXORANGE);
legend(p3, 2199, 2622, 53, [
  { label: 'SEBS Soil Moisture 1', c: '#808080', w: 4.2 },
  { label: 'SEBS soil moisture 2', c: '#808080', w: 4.2, dash: '62,37' },
  { label: 'SEBS soil moisture 3', c: '#008000', w: 4.2, dash: '48,24,10,24' },
  { label: 'SEBS average soil moisture', c: '#FFA500', w: 8.5 }
]);

// ---- panel 4: surface energy fluxes ----
const p4 = makePanel(3675, 4576, [-120.7, 707.7]);
addLine(p4, zip(tSebs, ecorSensible), '#FFC0CB', 4.2);
addLine(p4, zip(tSebs, ecorLatent), '#FFA500', 4.2);
addLine(p4, zip(tSebs, ecorSum), '#A52A2A', 4.2);
addLine(p4, zip(tSebs, sebsSoilHeat), '#0000FF', 4.2);
addLine(p4, zip(tRad, radNet), '#808080', 9);
addLine(p4, zip(tSebs, sebsNet), '#000000', 4.2);
addLine(p4, zip(tSebs, sebsEnergyBal), '#008000', 4.2);
addLine(p4, zip(tSebs, sebsNetPlusSoil), '#DDA0DD', 4.2, '64,37');
addFlags(p4, zip(tSebs, ecorLatent), d => ecorLatentFlags.includes(d[0]));
addFlags(p4, zip(tSebs, ecorSensible), d => ecorSensibleFlags.includes(d[0]));
addFlags(p4, zip(tSebs, ecorSum), d => ecorSumFlags.includes(d[0]));
shade(p4);
axes(p4, fluxTicks, 228, ['Flux, W/m', '-2'], true);
legend(p4, 1926, 3726, 54.4, [
  { label: 'ECOR sensible heat flux', c: '#FFC0CB', w: 4.2 },
  { label: 'ECOR latent heat flux', c: '#FFA500', w: 4.2 },
  { label: 'ECOR latent + sensible heat flux', c: '#A52A2A', w: 4.2 },
  { label: 'SEBS soil heat flux', c: '#0000FF', w: 4.2 },
  { label: 'SKY/GNDRAD net radiation', c: '#808080', w: 9 },
  { label: 'SEBS net radiation', c: '#000000', w: 4.2 },
  { label: 'SEBS "energy balance"', c: '#008000', w: 4.2 },
  { label: 'SEBS net rad + soil heat', c: '#DDA0DD', w: 4.2, dash: '64,37' }
]);
</script>
</body>
</html>
